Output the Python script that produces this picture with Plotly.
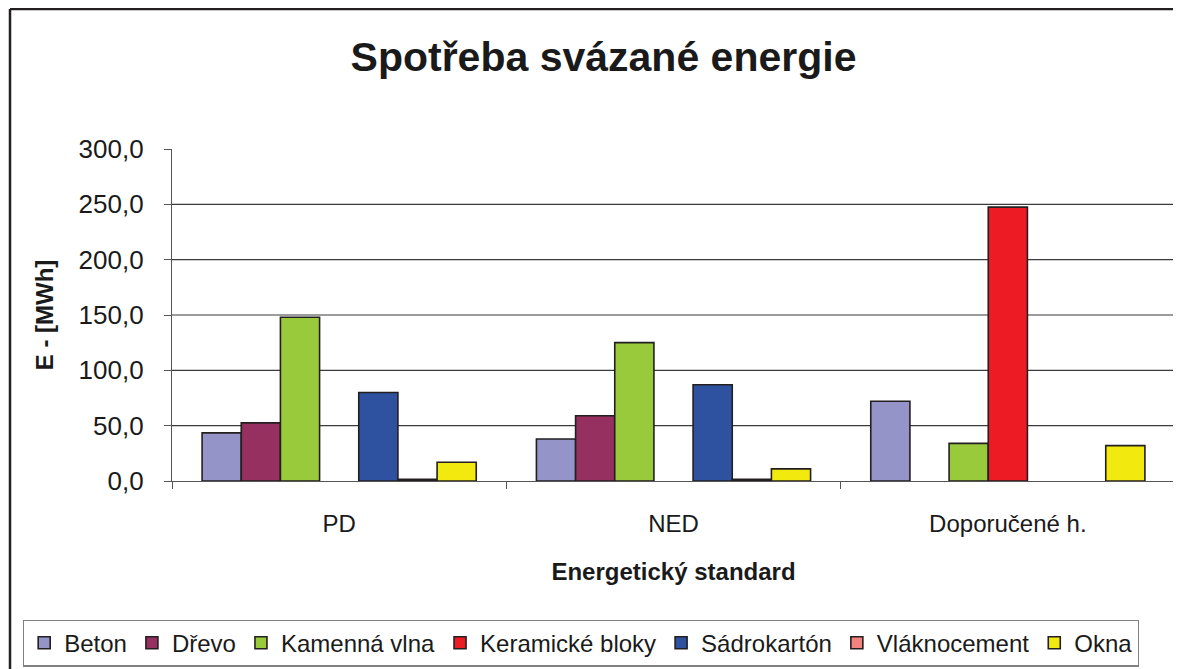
import plotly.graph_objects as go

categories = ["PD", "NED", "Doporučené h."]
series_names = ["Beton", "Dřevo", "Kamenná vlna", "Keramické bloky", "Sádrokartón", "Vláknocement", "Okna"]
beton = [43.5, 38.0, 72.0]
drevo = [52.5, 59.0, None]
kamenna_vlna = [148.0, 125.0, 34.0]
keramicke_bloky = [None, None, 247.5]
sadrokarton = [80.0, 87.0, None]
vlaknocement = [1.5, 1.5, None]
okna = [17.0, 11.0, 32.0]
colors = ["#9494C8", "#963060", "#99CA3C", "#ED1C24", "#2E52A0", "#F4827F", "#F2E90F"]
y_ticks = [0, 50, 100, 150, 200, 250, 300]

values = [beton, drevo, kamenna_vlna, keramicke_bloky, sadrokarton, vlaknocement, okna]

FONT = "Liberation Sans, Arial, sans-serif"

fig = go.Figure()
for name, vals, col in zip(series_names, values, colors):
    fig.add_trace(go.Bar(
        x=categories, y=vals, name=name,
        marker=dict(color=col, line=dict(color="#231F20", width=1.6)),
    ))

for v in y_ticks[1:-1]:
    fig.add_hline(y=v, line=dict(color="#3a3a3a", width=1.2), layer="below")

# the page shows the figure offset by the browser's 8px body margin
OFF = 8
W, H = 1181, 669
L, R, T, B = 172 - OFF, 14, 149 - OFF, 196
pw = W - L - R
ph = H - T - B
fx = lambda px: (px - L) / pw
fy = lambda py: (H - B - py) / ph

fig.update_layout(
    width=W, height=H,
    margin=dict(l=L, r=R, t=T, b=B, autoexpand=False),
    paper_bgcolor="white", plot_bgcolor="white",
    barmode="group", bargap=0.18, bargroupgap=0,
    separators=", ",
    font=dict(family=FONT, size=24, color="#1a1a1a"),
    title=dict(text="<b>Spotřeba svázané energie</b>", x=(603.5 - OFF) / W, xref="container",
               xanchor="center", y=1 - (57 - OFF) / H, yref="container", yanchor="middle",
               font=dict(size=41, color="#1a1a1a")),
    xaxis=dict(
        showline=True, linecolor="#555555", linewidth=1.2,
        ticks="outside", ticklen=7, tickcolor="#555555", tickwidth=1.2,
        tickson="boundaries", ticklabelstandoff=21,
        title=dict(text="<b>Energetický standard</b>", standoff=27, font=dict(size=24)),
        showgrid=False,
    ),
    yaxis=dict(
        range=[0, 300], tickvals=y_ticks, tickformat=".1f",
        showline=True, linecolor="#555555", linewidth=1.2,
        ticks="outside", ticklen=7, tickcolor="#555555", tickwidth=1.2,
        ticklabelstandoff=15, showgrid=False, zeroline=False,
        title=dict(text="<b>E - [MWh]</b>", standoff=18, font=dict(size=24)),
        tickfont=dict(size=26),
    ),
    showlegend=True,
    legend=dict(
        orientation="h", x=fx(23 - OFF), xref="paper", xanchor="left",
        y=fy(643 - OFF), yref="paper", yanchor="middle",
        bordercolor="#808080", borderwidth=1.2, bgcolor="white",
        font=dict(size=24), itemwidth=30, traceorder="normal",
        tracegroupgap=0,
    ),
)

# outer chart frame (only left and top edges visible)
fig.add_shape(type="line", xref="paper", yref="paper",
              x0=fx(10 - OFF), x1=fx(W), y0=fy(9 - OFF), y1=fy(9 - OFF),
              line=dict(color="#231F20", width=2.5))
fig.add_shape(type="line", xref="paper", yref="paper",
              x0=fx(10 - OFF), x1=fx(10 - OFF), y0=fy(9 - OFF), y1=fy(H),
              line=dict(color="#231F20", width=2.5))

fig.write_html("out.html")
